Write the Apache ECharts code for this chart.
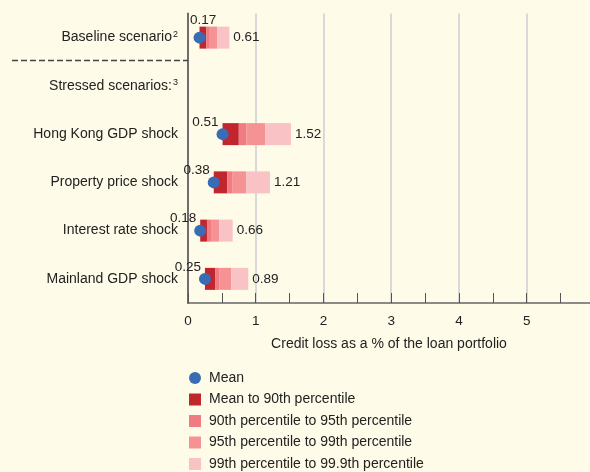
<!DOCTYPE html>
<html><head><meta charset="utf-8">
<script src="https://cdn.jsdelivr.net/npm/echarts@6/dist/echarts.min.js"></script>
<style>html,body{margin:0;padding:0;background:#fefbe8;}#c{width:590px;height:472px;}</style>
</head><body><div id="c"></div>
<script>
const categories = ['Baseline scenario{s|2}', 'Stressed scenarios:{s|3}', 'Hong Kong GDP shock', 'Property price shock', 'Interest rate shock', 'Mainland GDP shock'];
const mean = [0.17, null, 0.51, 0.38, 0.18, 0.25];
const p90  = [0.27, null, 0.75, 0.58, 0.28, 0.40];
const p95  = [0.31, null, 0.86, 0.66, 0.34, 0.46];
const p99  = [0.43, null, 1.14, 0.86, 0.46, 0.64];
const p999 = [0.61, null, 1.52, 1.21, 0.66, 0.89];
const seriesNames = ['Mean', 'Mean to 90th percentile', '90th percentile to 95th percentile', '95th percentile to 99th percentile', '99th percentile to 99.9th percentile'];
const xTicks = [0, 1, 2, 3, 4, 5];

const FONT = 'Liberation Sans';
const colors = ['#c1262f', '#f07b80', '#f59294', '#f9c2c5'];
const diff = (a, b) => a.map((v, i) => v == null ? '-' : +(v - b[i]).toFixed(4));
const segs = [diff(p90, mean), diff(p95, p90), diff(p99, p95), diff(p999, p99)];

const chart = echarts.init(document.getElementById('c'));
const barSeries = segs.map((d, k) => ({
  name: seriesNames[k + 1], type: 'bar', stack: 'r', data: d, barWidth: 22,
  itemStyle: { color: colors[k] }, z: 2,
  label: k === 3 ? {
    show: true, position: 'right', distance: 4, color: '#222', fontSize: 13.5, fontFamily: FONT,
    formatter: p => p999[p.dataIndex].toFixed(2)
  } : { show: false }
}));

chart.setOption({
  backgroundColor: '#fefbe8',
  animation: false,
  textStyle: { fontFamily: FONT },
  grid: { left: 188, right: 0, top: 13.5, bottom: 169, containLabel: false },
  xAxis: {
    type: 'value', min: 0, max: 5.935, interval: 1,
    axisLine: { show: true, lineStyle: { color: '#666', width: 1.5 } },
    axisTick: { show: true, inside: true, length: 10, lineStyle: { color: '#555', width: 1 } },
    minorTick: { show: true, splitNumber: 2, length: 10, lineStyle: { color: '#555', width: 1 } },
    splitLine: { show: true, showMaxLine: false, lineStyle: { color: '#d9d9d9', width: 2 } },
    axisLabel: { color: '#222', fontSize: 13.5, margin: 11, formatter: v => xTicks.includes(v) ? String(v) : '', showMaxLabel: false },
    name: 'Credit loss as a % of the loan portfolio', nameLocation: 'middle', nameGap: 34,
    nameTextStyle: { color: '#222', fontSize: 14 }
  },
  yAxis: {
    type: 'category', data: categories, inverse: true,
    axisLine: { show: true, lineStyle: { color: '#6e6e6e', width: 2 } },
    axisTick: { show: false },
    axisLabel: { color: '#222', fontSize: 14, margin: 10,
      rich: { s: { fontSize: 9, verticalAlign: 'top', color: '#222', padding: [0, 0, 6, 1] } } }
  },
  legend: {
    orient: 'vertical', left: 189, top: 371, height: 110, padding: 0, itemWidth: 12, itemHeight: 12, itemGap: 7.5,
    textStyle: { color: '#222', fontSize: 14, padding: [0, 0, 0, 3] },
    data: [
      { name: seriesNames[0], icon: 'circle' },
      { name: seriesNames[1], icon: 'rect' },
      { name: seriesNames[2], icon: 'rect' },
      { name: seriesNames[3], icon: 'rect' },
      { name: seriesNames[4], icon: 'rect' }
    ]
  },
  series: [
    { name: 'base', type: 'bar', stack: 'r', data: mean.map(v => v == null ? '-' : v), barWidth: 22,
      itemStyle: { color: 'transparent' }, silent: true }
  ].concat(barSeries, [{
    name: seriesNames[0], type: 'scatter', symbolSize: 12, z: 5,
    itemStyle: { color: '#3a6cb5', opacity: 1 },
    data: mean.map((v, i) => v == null ? null : {
      value: [v, i],
      label: i === 0 ? { position: [-3.5, -11], align: 'left' } : undefined
    }).filter(d => d),
    label: { show: true, position: [2, -6], align: 'right', verticalAlign: 'middle',
      color: '#222', fontSize: 13.5, fontFamily: FONT, formatter: p => p.value[0].toFixed(2) }
  }])
});

const y0 = chart.convertToPixel({ yAxisIndex: 0 }, 0);
const y1 = chart.convertToPixel({ yAxisIndex: 0 }, 1);
const ySep = Math.round((y0 + y1) / 2) - 1.5;
const xAxis0 = chart.convertToPixel({ xAxisIndex: 0 }, 0);
chart.setOption({
  graphic: [{
    type: 'line', shape: { x1: 12, y1: ySep, x2: xAxis0, y2: ySep },
    style: { stroke: '#444', lineWidth: 1.3, lineDash: [6, 3] }, z: 10
  }]
});
</script></body></html>
